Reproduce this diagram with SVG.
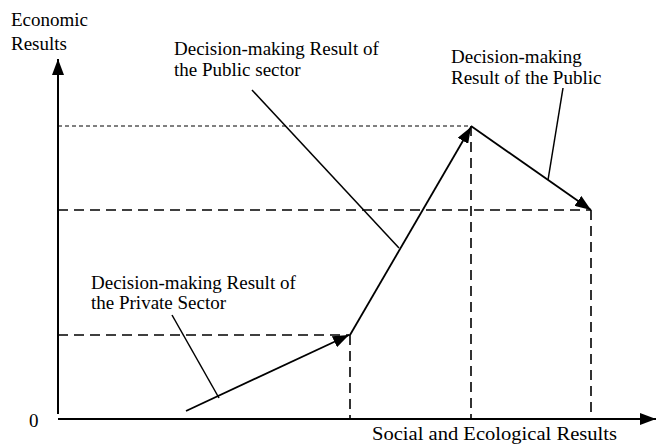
<svg xmlns="http://www.w3.org/2000/svg" width="657" height="444" viewBox="0 0 657 444">
<style>
text{font-family:"Liberation Serif","Times New Roman",serif;font-size:19px;fill:#000}
.ax{stroke:#000;stroke-width:2;fill:none}
.ar{stroke:#000;stroke-width:1.8;fill:none}
.ld{stroke:#000;stroke-width:1.5;fill:none}
.dl{stroke:#000;stroke-width:1.6;stroke-dasharray:10 6;fill:none}
.df{stroke:#000;stroke-width:1;stroke-dasharray:4 3;fill:none}
</style>
<defs>
<marker id="ah" markerUnits="userSpaceOnUse" viewBox="0 0 16 12" refX="16" refY="6" markerWidth="16" markerHeight="12" orient="auto">
<path d="M0,0 L16,6 L0,12 Z" fill="#000"/>
</marker>
</defs>
<rect width="657" height="444" fill="#fff"/>
<g id="guides">
<line class="df" x1="58" y1="126" x2="471" y2="126"/>
<line class="dl" x1="58" y1="210" x2="591" y2="210"/>
<line class="dl" x1="58" y1="335" x2="350" y2="335"/>
<line class="dl" x1="350" y1="335" x2="350" y2="419"/>
<line class="dl" x1="471" y1="126" x2="471" y2="419"/>
<line class="dl" x1="591" y1="210" x2="591" y2="419"/>
</g>
<g id="axes">
<line class="ax" x1="58" y1="414" x2="58" y2="59" marker-end="url(#ah)"/>
<line class="ax" x1="58" y1="419" x2="656" y2="419" marker-end="url(#ah)"/>
</g>
<g id="connectors">
<line class="ar" x1="186" y1="411" x2="349" y2="335" marker-end="url(#ah)"/>
<line class="ar" x1="350" y1="335" x2="471" y2="127" marker-end="url(#ah)"/>
<line class="ar" x1="471" y1="126" x2="591" y2="210" marker-end="url(#ah)"/>
<line class="ld" x1="172" y1="315" x2="219" y2="398"/>
<line class="ld" x1="252" y1="90" x2="399" y2="248"/>
<line class="ld" x1="563" y1="88" x2="548" y2="180"/>
</g>
<g id="label-y">
<text x="11" y="26">Economic</text>
<text x="11" y="50">Results</text>
</g>
<g id="label-public-sector">
<text x="174" y="55">Decision-making Result of</text>
<text x="174" y="76">the Public sector</text>
</g>
<g id="label-public">
<text x="451" y="63">Decision-making</text>
<text x="451" y="84">Result of the Public</text>
</g>
<g id="label-private">
<text x="91" y="289">Decision-making Result of</text>
<text x="91" y="309">the Private Sector</text>
</g>
<g id="label-origin">
<text x="29" y="427">0</text>
</g>
<g id="label-x">
<text x="372" y="440" textLength="245" lengthAdjust="spacingAndGlyphs">Social and Ecological Results</text>
</g>
</svg>
